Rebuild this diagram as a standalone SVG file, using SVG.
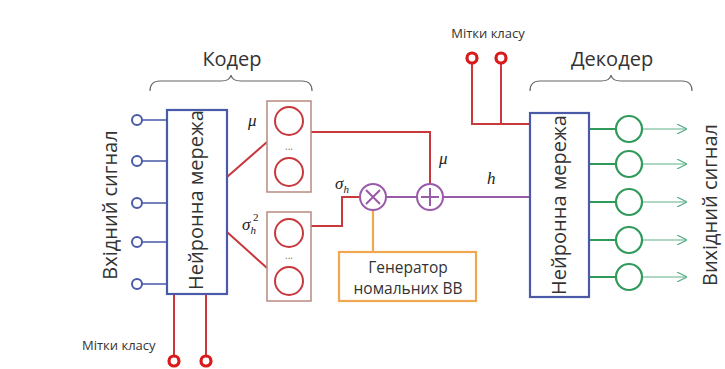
<svg xmlns="http://www.w3.org/2000/svg" width="725" height="369" viewBox="0 0 725 369">
<defs>
<style>
text{font-family:"Open Sans","Liberation Sans",Arial,sans-serif;fill:#333}
.lbl{font-size:20px}
.sm{font-size:13px}
.mid{font-size:15.5px}
.math{font-family:"Liberation Serif","DejaVu Serif",serif;font-style:italic;font-size:17px;fill:#222}
.blue{stroke:#4a5aa8;fill:none}
.box{stroke:#4a5aa8;stroke-width:2.2;fill:#fff}
.red{stroke:#c8383c;fill:none;stroke-width:2}
.rc{stroke:#c8383c;fill:#fff;stroke-width:2}
.rc2{stroke:#d91a1a;fill:#fff;stroke-width:3.2}
.pbox{stroke:#b88a80;fill:#fff;stroke-width:1.5}
.pur{stroke:#9a5aaa;fill:none;stroke-width:2}
.org{stroke:#f0a850;fill:none;stroke-width:2.2}
.grn{stroke:#2f9a5a;fill:#fff;stroke-width:2.2}
.gthin{stroke:#5fb08a;fill:none;stroke-width:1.2}
.brace{stroke:#666;fill:none;stroke-width:1.2}
</style>
<marker id="arr" viewBox="0 0 10 10" refX="9" refY="5" markerWidth="10" markerHeight="10" markerUnits="userSpaceOnUse" orient="auto">
<path d="M0,0 L10,5 L0,10" fill="none" stroke="#5fb08a" stroke-width="1.2"/>
</marker>
</defs>
<rect width="725" height="369" fill="#fff"/>

<g id="connectors">
<path class="blue" stroke-width="1.3" d="M142,120H167M142,161H167M142,203H167M142,242H167M142,284H167"/>
<path class="red" d="M227,177L267,142M227,232L267,268"/>
<path class="red" d="M174,294V357M206,294V357"/>
<path class="red" d="M311,132H430V184"/>
<path class="red" d="M311,226H342V197H360"/>
<path class="pur" d="M386,197H417M443,197H530"/>
<path class="org" d="M373,210V252"/>
<path class="red" stroke-width="1.6" d="M472,63V124H530M501,63V124"/>
<path class="grn" stroke-width="2.4" d="M589,129H616M589,164H616M589,202H616M589,240H616M589,277H616"/>
<path class="gthin" marker-end="url(#arr)" d="M642,129H686"/>
<path class="gthin" marker-end="url(#arr)" d="M642,164H686"/>
<path class="gthin" marker-end="url(#arr)" d="M642,202H686"/>
<path class="gthin" marker-end="url(#arr)" d="M642,240H686"/>
<path class="gthin" marker-end="url(#arr)" d="M642,277H686"/>
</g>

<g id="encoder-brace">
<path class="brace" d="M150,91Q150,81 160,81H221Q230,81 231,75Q232,81 241,81H302Q312,81 312,91"/>
<text class="lbl" x="232" y="66" text-anchor="middle">Кодер</text>
</g>

<g id="input-signal">
<circle class="blue" stroke-width="2" cx="137" cy="120" r="5"/>
<circle class="blue" stroke-width="2" cx="137" cy="161" r="5"/>
<circle class="blue" stroke-width="2" cx="137" cy="203" r="5"/>
<circle class="blue" stroke-width="2" cx="137" cy="242" r="5"/>
<circle class="blue" stroke-width="2" cx="137" cy="284" r="5"/>
<text class="lbl" transform="translate(117,205) rotate(-90)" text-anchor="middle">Вхідний сигнал</text>
</g>

<g id="encoder-nn">
<rect class="box" x="167" y="110" width="60" height="184"/>
<text class="lbl" transform="translate(203,200) rotate(-90)" text-anchor="middle">Нейронна мережа</text>
</g>

<g id="mu-layer">
<rect class="pbox" x="267" y="101" width="44" height="91"/>
<circle class="rc" cx="289" cy="121" r="14"/>
<circle class="rc" cx="289" cy="172" r="14"/>
<text x="289" y="150" text-anchor="middle" style="font-size:10px;fill:#777">...</text>
<text class="math" x="248" y="126">μ</text>
</g>

<g id="sigma-layer">
<rect class="pbox" x="267" y="212" width="44" height="89"/>
<circle class="rc" cx="289" cy="233" r="14"/>
<circle class="rc" cx="289" cy="281" r="14"/>
<text x="289" y="259" text-anchor="middle" style="font-size:10px;fill:#777">...</text>
<text class="math" x="242" y="230">σ<tspan font-size="11" dy="4">h</tspan></text>
<text x="253" y="221" style="font-family:'Liberation Serif',serif;font-size:11px;fill:#222">2</text>
</g>

<g id="multiply">
<circle class="pur" cx="373" cy="197" r="13" fill="#fff"/>
<path class="pur" d="M366,190L380,204M380,190L366,204"/>
<text class="math" x="335" y="189">σ<tspan font-size="11" dy="4">h</tspan></text>
</g>

<g id="add">
<circle class="pur" cx="430" cy="197" r="13" fill="#fff"/>
<path class="pur" d="M430,188V206M421,197H439"/>
<text class="math" x="439" y="164">μ</text>
<text class="math" x="487" y="184">h</text>
</g>

<g id="generator">
<rect class="org" x="339" y="252" width="137" height="49" fill="#fff"/>
<text class="mid" x="408" y="273" text-anchor="middle">Генератор</text>
<text class="mid" x="408" y="294" text-anchor="middle">номальних ВВ</text>
</g>

<g id="encoder-class-labels">
<circle class="rc2" cx="174" cy="361" r="5"/>
<circle class="rc2" cx="206" cy="361" r="5"/>
<text class="sm" x="82" y="350">Мітки класу</text>
</g>

<g id="decoder-class-labels">
<circle class="rc2" cx="472" cy="58" r="5"/>
<circle class="rc2" cx="501" cy="58" r="5"/>
<text class="sm" x="488" y="38" text-anchor="middle">Мітки класу</text>
</g>

<g id="decoder-brace">
<path class="brace" d="M530,91Q530,81 540,81H601Q610,81 611,75Q612,81 621,81H682Q692,81 692,91"/>
<text class="lbl" x="612" y="66" text-anchor="middle">Декодер</text>
</g>

<g id="decoder-nn">
<rect class="box" x="530" y="113" width="59" height="184"/>
<text class="lbl" transform="translate(566,205) rotate(-90)" text-anchor="middle">Нейронна мережа</text>
</g>

<g id="output-signal">
<circle class="grn" cx="629" cy="129" r="13"/>
<circle class="grn" cx="629" cy="164" r="13"/>
<circle class="grn" cx="629" cy="202" r="13"/>
<circle class="grn" cx="629" cy="240" r="13"/>
<circle class="grn" cx="629" cy="277" r="13"/>
<text class="lbl" transform="translate(717,205) rotate(-90)" text-anchor="middle">Вихідний сигнал</text>
</g>
</svg>
